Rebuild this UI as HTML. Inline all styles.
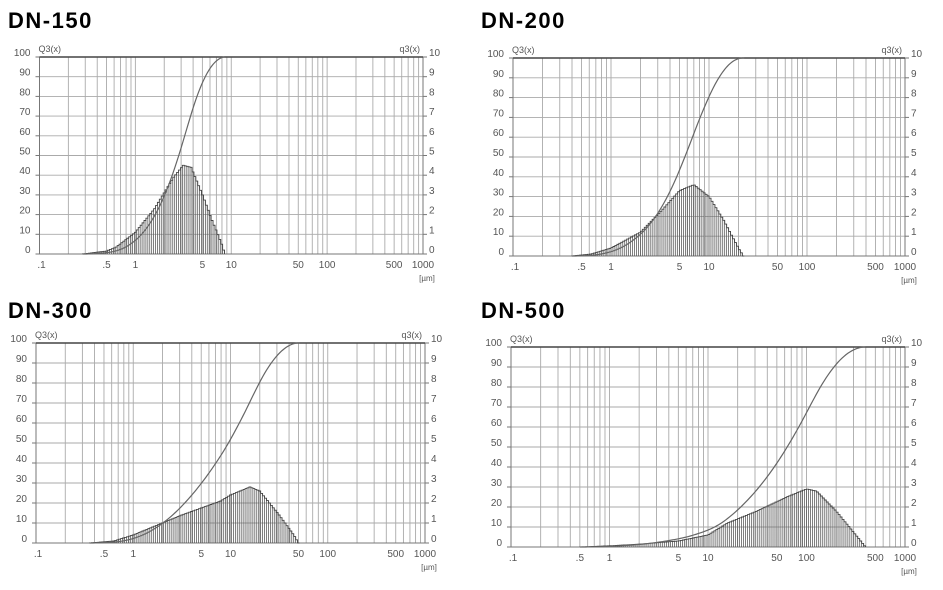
<!DOCTYPE html>
<html><head><meta charset="utf-8"><style>
html,body{margin:0;padding:0;background:#fff;}
svg{display:block;}
</style></head><body>
<svg id="s" width="943" height="590" xmlns="http://www.w3.org/2000/svg" font-family="Liberation Sans, sans-serif"></svg>
<script>
const S=document.getElementById('s');
let h='';
const charts=[
 {t:'DN-150',tx:8,ty:28,L:39.5,R:423,T:57,B:254,
  p:[[-0.55,0],[-0.3,0.15],[-0.2,0.35],[0,1.1],[0.2,2.3],[0.4,3.9],[0.5,4.5],[0.58,4.4],[0.7,3.0],[0.8,1.7],[0.9,0.5],[0.92,0.2],[0.93,0]]},
 {t:'DN-200',tx:481,ty:28,L:513,R:905,T:58,B:256,
  p:[[-0.4,0],[-0.2,0.1],[0,0.4],[0.3,1.2],[0.5,2.2],[0.7,3.3],[0.845,3.6],[1.0,3.0],[1.15,1.8],[1.3,0.4],[1.35,0]]},
 {t:'DN-300',tx:8,ty:318,L:36,R:425,T:343,B:543,
  p:[[-0.45,0],[-0.2,0.1],[0,0.4],[0.3,1.0],[0.5,1.4],[0.7,1.75],[0.9,2.1],[1.0,2.4],[1.2,2.8],[1.3,2.6],[1.5,1.4],[1.65,0.4],[1.7,0]]},
 {t:'DN-500',tx:481,ty:318,L:511,R:905,T:347,B:547,
  p:[[-0.3,0],[0,0.06],[0.3,0.14],[0.7,0.3],[1.0,0.6],[1.2,1.2],[1.5,1.8],[1.8,2.5],[2.0,2.9],[2.1,2.8],[2.3,1.8],[2.5,0.6],[2.6,0]]}
];
function interp(p,x){if(x<=p[0][0]||x>=p[p.length-1][0])return 0;for(let i=1;i<p.length;i++){if(x<=p[i][0]){const a=p[i-1],b=p[i];return a[1]+(b[1]-a[1])*(x-a[0])/(b[0]-a[0]);}}return 0;}
for(const c of charts){
 const W=c.R-c.L,H=c.B-c.T;
 const X=l=>c.L+(l+1)/4*W, Y=v=>c.B-v/100*H;
 h+=`<text x="${c.tx}" y="${c.ty}" font-size="22" font-weight="bold" letter-spacing="1.5" fill="#000">${c.t}</text>`;
 for(let d=-1;d<3;d++)for(let k=1;k<10;k++){const x=X(d+Math.log10(k));if(k==1&&d==-1)continue;h+=`<line x1="${x}" y1="${c.T}" x2="${x}" y2="${c.B}" stroke="#aaa" stroke-width="0.9"/>`;}
 for(let v=10;v<100;v+=10)h+=`<line x1="${c.L}" y1="${Y(v)}" x2="${c.R}" y2="${Y(v)}" stroke="#aaa" stroke-width="0.9"/>`;
 h+=`<rect x="${c.L}" y="${c.T}" width="${W}" height="${H}" fill="none" stroke="#777" stroke-width="1"/>`;
 h+=`<line x1="${c.L}" y1="${c.T}" x2="${c.R}" y2="${c.T}" stroke="#444" stroke-width="1.6"/>`;
 for(let v=0;v<=100;v+=10){const y=Y(v);h+=`<line x1="${c.L-4}" y1="${y}" x2="${c.L}" y2="${y}" stroke="#777"/><line x1="${c.R}" y1="${y}" x2="${c.R+4}" y2="${y}" stroke="#777"/>`;
  h+=`<text x="${c.L-9}" y="${y-1}" font-size="10" fill="#555" text-anchor="end">${v}</text><text x="${c.R+6}" y="${y-1}" font-size="10" fill="#555">${v/10}</text>`;}
 h+=`<text x="${c.L-1}" y="${c.T-5}" font-size="9" fill="#555">Q3(x)</text><text x="${c.R-3}" y="${c.T-5}" font-size="9" fill="#555" text-anchor="end">q3(x)</text>`;
 const xl=[['.1',-1],['.5',Math.log10(.5)],['1',0],['5',Math.log10(5)],['10',1],['50',Math.log10(50)],['100',2],['500',Math.log10(500)],['1000',3]];
 for(const [s,l] of xl){h+=`<text x="${X(l)+(l==-1?2:0)}" y="${c.B+14}" font-size="10" fill="#555" text-anchor="middle">${s}</text>`;}
 h+=`<text x="${c.R+4}" y="${c.B+27}" font-size="8" fill="#555" text-anchor="middle">[µm]</text>`;
 const st=0.02, p=c.p, lo=p[0][0], hi=p[p.length-1][0];
 let path='', lines='', tot=0;
 const bins=[];
 for(let l=lo;l<hi;l+=st){const v=interp(p,l+st/2);bins.push([l,v]);tot+=v;}
 path=`M${X(lo)},${c.B}`;
 let acc=0, cpath=`M${X(lo)},${c.B}`;
 for(const [l,v] of bins){const x0=X(l),x1=X(l+st),y=Y(v*10);path+=`L${x0},${y}L${x1},${y}`;lines+=`M${x1},${y}V${c.B}`;acc+=v;cpath+=`L${x1},${Y(acc/tot*100)}`;}
 path+=`L${X(hi)},${c.B}`;
 h+=`<path d="${lines}" stroke="#555" stroke-width="0.75" fill="none"/>`;
 h+=`<path d="${path}" stroke="#444" stroke-width="0.9" fill="none"/>`;
 h+=`<path d="${cpath}" stroke="#666" stroke-width="1.2" fill="none"/>`;
}
S.innerHTML=h;
</script>
</body></html>
